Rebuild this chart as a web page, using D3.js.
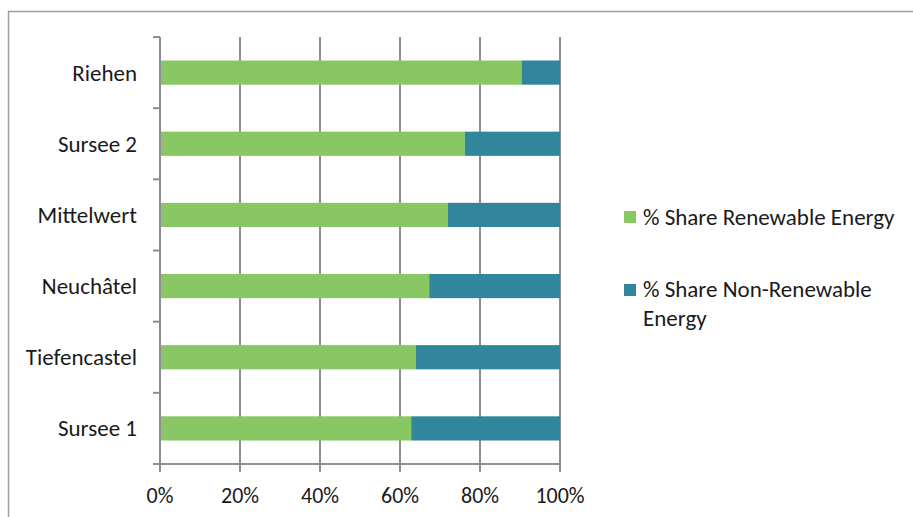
<!DOCTYPE html>
<html><head><meta charset="utf-8">
<script src="https://cdn.jsdelivr.net/npm/d3@7"></script>
<style>body{margin:0;background:#fff}svg{display:block}</style>
</head><body>
<script>
const categories = ["Riehen","Sursee 2","Mittelwert","Neuchâtel","Tiefencastel","Sursee 1"];
const renewable = [90.4, 76.2, 72.0, 67.3, 64.0, 62.8];
const nonRenewable = [9.6, 23.8, 28.0, 32.7, 36.0, 37.2];
const seriesNames = ["% Share Renewable Energy", "% Share Non-Renewable Energy"];
const colors = ["#88c764", "#31869e"];
const xTicks = [0,20,40,60,80,100];

const W=913,H=517;
const font = "Carlito, Lato, 'Open Sans', sans-serif";
const svg = d3.select("body").append("svg").attr("width",W).attr("height",H);
svg.append("rect").attr("x",8.5).attr("y",11.5).attr("width",W).attr("height",H)
  .attr("fill","none").attr("stroke","#a0a0a4").attr("stroke-width",1.5);

const m={l:160,r:560,t:37,b:464};
const x=d3.scaleLinear().domain([0,100]).range([m.l,m.r]);
const y=d3.scaleBand().domain(categories).range([m.t,m.b]).paddingInner(0.66).paddingOuter(0.33);
const yb=d3.scaleBand().domain(categories).range([m.t,m.b]);

// gridlines
svg.append("g").selectAll("line").data(xTicks.slice(1)).join("line")
  .attr("x1",d=>x(d)).attr("x2",d=>x(d)).attr("y1",m.t).attr("y2",m.b)
  .attr("stroke","#8e8e92").attr("stroke-width",2);

const stack = d3.stack().keys([0,1])(categories.map((c,i)=>({0:renewable[i],1:nonRenewable[i],cat:c})));
stack.forEach((s,k)=>{
  svg.append("g").selectAll("rect").data(s).join("rect")
    .attr("x",d=>x(d[0])).attr("width",d=>x(d[1])-x(d[0]))
    .attr("y",d=>y(d.data.cat)).attr("height",y.bandwidth())
    .attr("fill",colors[k]);
});

// y axis
const ya = svg.append("g");
ya.append("line").attr("x1",m.l).attr("x2",m.l).attr("y1",m.t).attr("y2",m.b+8).attr("stroke","#8e8e92").attr("stroke-width",2);
const bounds = categories.map(c=>yb(c)).concat([m.b]);
ya.selectAll("line.t").data(bounds.slice(0,-1)).join("line").attr("class","t")
  .attr("x1",m.l-7).attr("x2",m.l).attr("y1",d=>d).attr("y2",d=>d).attr("stroke","#8e8e92").attr("stroke-width",2);
ya.selectAll("text").data(categories).join("text")
  .attr("x",137).attr("y",d=>yb(d)+yb.bandwidth()/2).attr("dy","0.35em")
  .attr("text-anchor","end").attr("font-family",font).attr("font-size",23).attr("fill","#1a1a1a")
  .text(d=>d);

// x axis
const xa = svg.append("g");
xa.append("line").attr("x1",m.l-7).attr("x2",m.r).attr("y1",m.b).attr("y2",m.b).attr("stroke","#8e8e92").attr("stroke-width",2);
xa.selectAll("line.t").data(xTicks).join("line").attr("class","t")
  .attr("x1",d=>x(d)).attr("x2",d=>x(d)).attr("y1",m.b).attr("y2",m.b+8).attr("stroke","#8e8e92").attr("stroke-width",2);
xa.selectAll("text").data(xTicks).join("text")
  .attr("x",d=>x(d)).attr("y",503).attr("text-anchor","middle")
  .attr("font-family",font).attr("font-size",22).attr("fill","#1a1a1a").text(d=>d+"%");

// legend
const lg = svg.append("g").attr("font-family",font).attr("font-size",23).attr("fill","#1a1a1a");
lg.append("rect").attr("x",624).attr("y",211).attr("width",12).attr("height",12).attr("fill",colors[0]);
lg.append("text").attr("x",643).attr("y",225).text(seriesNames[0]);
lg.append("rect").attr("x",624).attr("y",284).attr("width",12).attr("height",12).attr("fill",colors[1]);
lg.append("text").attr("x",643).attr("y",297).text("% Share Non-Renewable");
lg.append("text").attr("x",643).attr("y",326).text("Energy");
</script>
</body></html>
